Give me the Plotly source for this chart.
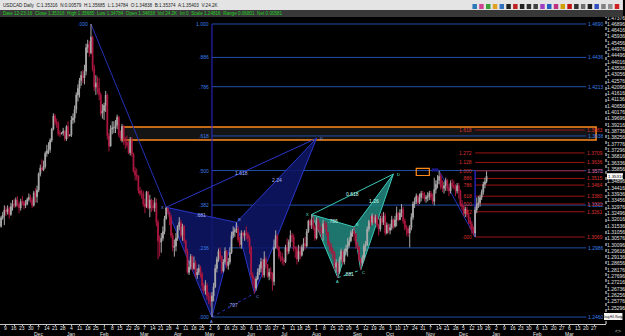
import plotly.graph_objects as go

# ------------------------------------------------------------------ data
# x = trading-day index (weekends removed), 0 = Monday 9 Nov 2015
first_day = -3            # Wed 4 Nov 2015
first_open = 1.3150

# daily closes / highs / lows in 1e-4 price units, one row per week (Mon..Fri)
close_pips = [
    13215, 13235, 13275,
    13260, 13285, 13240, 13300, 13320,
    13310, 13350, 13320, 13290, 13340,
    13335, 13310, 13320, 13355, 13370,
    13350, 13310, 13405, 13375, 13425,
    13550, 13595, 13580, 13605, 13705,
    13725, 13735, 13805, 13890, 13990,
    13945, 13935, 13855, 13855, 13860,
    13875, 13815, 13910, 13840, 13845,
    13960, 13975, 14040, 14150, 14200,
    14260, 14300, 14280, 14330, 14510,
    14535, 14470, 14590, 14350, 14210,
    14240, 14200, 14150, 14010, 14030,
    14070, 14150, 13840, 13760, 13890,
    13900, 13900, 13920, 13980, 13850,
    13820, 13910, 13800, 13790, 13770,
    13710, 13800, 13700, 13570, 13540,
    13530, 13420, 13400, 13400, 13320,
    13300, 13410, 13290, 13350, 13310,
    13290, 13330, 13180, 13040, 13030,
    13060, 13110, 13210, 13290, 13260,
    13220, 13080, 12990, 13000, 13060,
    13150, 13180, 13080, 13150, 13040,
    12960, 12800, 12840, 12920, 12830,
    12870, 12780, 12800, 12830, 12790,
    12700, 12660, 12700, 12620, 12600,
    12580, 12620, 12690, 12830, 12900,
    12960, 12920, 12810, 12880, 12960,
    12850, 12880, 12950, 13080, 13110,
    13120, 13130, 13050, 13010, 13100,
    13080, 13100, 13090, 13060, 12990,
    12780, 12750, 12680, 12750, 12800,
    12830, 12880, 12780, 12900, 12860,
    12770, 12800, 12790, 12730, 12990,
    13080, 12990, 12920, 12920, 12890,
    12880, 12990, 12960, 13030, 13080,
    13070, 12980, 12980, 12900, 12960,
    12930, 12990, 13020, 13000, 13110,
    13190, 13160, 13200, 13140, 13060,
    13200, 13130, 13130, 13100, 13170,
    13160, 13100, 13020, 12990, 12960,
    12950, 12840, 12870, 12800, 12900,
    12960, 12880, 12960, 12980, 13010,
    13040, 13100, 13110, 13090, 13020,
    12990, 12900, 12870, 12910, 13000,
    13010, 13130, 13190, 13180, 13230,
    13180, 13220, 13160, 13130, 13210,
    13180, 13230, 13100, 13160, 13120,
    13140, 13200, 13150, 13200, 13250,
    13200, 13250, 13280, 13190, 13140,
    13130, 13100, 13140, 13220, 13320,
    13340, 13380, 13330, 13370, 13400,
    13390, 13360, 13370, 13380, 13400,
    13370, 13340, 13430, 13470, 13500,
    13530, 13450, 13440, 13460, 13500,
    13440, 13420, 13480, 13460, 13450,
    13420, 13460, 13420, 13320, 13300,
    13250, 13280, 13240, 13200, 13170,
    13120, 13100, 13275, 13320, 13330,
    13370, 13410, 13470, 13490, 13532,
]
high_pips = [
    13230, 13260, 13310,
    13300, 13310, 13300, 13330, 13350,
    13360, 13370, 13380, 13330, 13360,
    13380, 13345, 13350, 13370, 13400,
    13390, 13370, 13420, 13440, 13460,
    13560, 13620, 13660, 13650, 13720,
    13770, 13790, 13820, 13900, 14010,
    14005, 13970, 13950, 13880, 13865,
    13900, 13880, 13920, 13950, 13850,
    13990, 14010, 14070, 14170, 14230,
    14280, 14330, 14340, 14380, 14540,
    14570, 14560, 14690, 14600, 14380,
    14300, 14290, 14280, 14170, 14080,
    14090, 14180, 14160, 13860, 13920,
    13950, 13950, 13960, 14000, 13990,
    13880, 13930, 13920, 13830, 13840,
    13800, 13830, 13830, 13710, 13600,
    13590, 13540, 13450, 13430, 13420,
    13360, 13420, 13420, 13390, 13360,
    13350, 13370, 13360, 13200, 13080,
    13100, 13150, 13230, 13295, 13290,
    13260, 13240, 13100, 13050, 13100,
    13160, 13220, 13200, 13170, 13160,
    13050, 12980, 12890, 12940, 12930,
    12920, 12890, 12830, 12860, 12850,
    12800, 12720, 12740, 12720, 12650,
    12640, 12650, 12720, 12860, 12920,
    12980, 12990, 12930, 12900, 12990,
    12970, 12910, 12990, 13110, 13150,
    13140, 13180, 13150, 13070, 13120,
    13110, 13120, 13150, 13110, 13080,
    13000, 12800, 12760, 12770, 12830,
    12860, 12910, 12900, 12960, 12920,
    12860, 12830, 12840, 12800, 13050,
    13120, 13090, 13000, 12960, 12950,
    12910, 13010, 13060, 13050, 13120,
    13100, 13090, 13000, 13000, 13010,
    13000, 13010, 13060, 13070, 13130,
    13200, 13210, 13240, 13230, 13160,
    13220, 13210, 13180, 13150, 13200,
    13190, 13180, 13110, 13040, 13020,
    12990, 12960, 12900, 12880, 12920,
    12980, 12970, 12980, 13010, 13060,
    13070, 13120, 13130, 13145, 13100,
    13030, 13000, 12910, 12930, 13020,
    13040, 13150, 13200, 13230, 13250,
    13240, 13240, 13240, 13170, 13230,
    13250, 13260, 13250, 13180, 13170,
    13170, 13230, 13210, 13230, 13300,
    13260, 13280, 13320, 13300, 13210,
    13160, 13150, 13160, 13250, 13340,
    13370, 13400, 13390, 13400, 13420,
    13420, 13410, 13390, 13410, 13420,
    13420, 13400, 13520, 13500, 13540,
    13572, 13550, 13500, 13490, 13520,
    13510, 13470, 13500, 13510, 13500,
    13470, 13480, 13480, 13430, 13350,
    13310, 13300, 13300, 13250, 13220,
    13190, 13150, 13300, 13370, 13380,
    13390, 13430, 13490, 13520, 13569,
]
low_pips = [
    13140, 13200, 13160,
    13230, 13240, 13210, 13230, 13270,
    13290, 13295, 13300, 13250, 13270,
    13310, 13280, 13290, 13310, 13340,
    13330, 13290, 13300, 13330, 13330,
    13410, 13530, 13570, 13570, 13590,
    13680, 13700, 13710, 13790, 13880,
    13920, 13900, 13840, 13830, 13850,
    13840, 13800, 13800, 13820, 13835,
    13830, 13930, 13940, 14010, 14100,
    14130, 14220, 14240, 14230, 14300,
    14470, 14440, 14460, 14330, 14180,
    14150, 14160, 14110, 13990, 13970,
    13960, 14020, 13810, 13720, 13760,
    13850, 13860, 13860, 13890, 13830,
    13800, 13790, 13770, 13740, 13750,
    13700, 13690, 13680, 13560, 13500,
    13500, 13400, 13380, 13360, 13300,
    13250, 13290, 13280, 13220, 13260,
    13270, 13260, 13150, 12900, 12920,
    12950, 13040, 13090, 13200, 13240,
    13160, 13060, 12960, 12920, 12960,
    13040, 13120, 13060, 13040, 13020,
    12940, 12790, 12780, 12820, 12810,
    12820, 12760, 12750, 12780, 12760,
    12660, 12640, 12630, 12590, 12560,
    12540, 12460, 12580, 12680, 12800,
    12880, 12890, 12790, 12800, 12860,
    12830, 12820, 12860, 12940, 13060,
    13070, 13100, 13030, 12990, 12980,
    13060, 13040, 13050, 13030, 12940,
    12760, 12700, 12640, 12660, 12740,
    12780, 12800, 12760, 12760, 12830,
    12760, 12740, 12750, 12660, 12700,
    12980, 12970, 12900, 12880, 12860,
    12850, 12870, 12930, 12940, 12990,
    13030, 12960, 12910, 12860, 12880,
    12900, 12920, 12960, 12970, 12990,
    13100, 13140, 13130, 13120, 13040,
    13050, 13110, 13090, 13060, 13040,
    13130, 13080, 13000, 12960, 12940,
    12900, 12820, 12800, 12760, 12790,
    12880, 12860, 12860, 12930, 12920,
    12990, 13030, 13070, 13040, 12980,
    12970, 12880, 12818, 12850, 12890,
    12960, 13000, 13110, 13150, 13160,
    13170, 13170, 13140, 13080, 13110,
    13160, 13160, 13080, 13090, 13100,
    13090, 13120, 13130, 13140, 13150,
    13190, 13200, 13220, 13170, 13120,
    13080, 13070, 12990, 13120, 13200,
    13290, 13320, 13310, 13320, 13340,
    13360, 13340, 13330, 13340, 13350,
    13350, 13320, 13310, 13400, 13440,
    13470, 13430, 13410, 13400, 13420,
    13420, 13380, 13400, 13440, 13430,
    13380, 13400, 13360, 13300, 13270,
    13230, 13220, 13220, 13170, 13130,
    13090, 13080, 13069, 13250, 13290,
    13300, 13350, 13390, 13440, 13478,
]

# x-axis: Mondays 9 Nov 2015 .. 27 Mar 2017 (every 5 trading days)
tick_days = [9, 16, 23, 30, 7, 14, 21, 28,
             4, 11, 18, 25, 1, 8, 15, 22, 29, 7, 14, 21, 28, 4, 11, 18, 25,
             2, 9, 16, 23, 30, 6, 13, 20, 27, 4, 11, 18, 25, 1, 8, 15, 22, 29,
             5, 12, 19, 26, 3, 10, 17, 24, 31, 7, 14, 21, 28, 5, 12, 19, 26,
             2, 9, 16, 23, 30, 6, 13, 20, 27, 6, 13, 20, 27]
month_names = ["Dec", "Jan", "Feb", "Mar", "Apr", "May", "Jun", "Jul", "Aug",
               "Sep", "Oct", "Nov", "Dec", "Jan", "Feb", "Mar"]

# price-axis grid of the terminal
price_tick0, price_step = 1.24816, 0.0048

quote = {"date": "12-23-16", "close": "1.35316", "high": "1.35685", "low": "1.34784",
         "open": "1.34838", "bid": "1.35374", "ask": "1.35403", "chg": "0.00579",
         "vol": "24.2K", "scale": "1.24816", "range": "0.06801", "net": "0.00581"}

# Fibonacci retracement of the Jan high -> May low swing (blue)
blue_fib_low, blue_fib_high = 1.2460, 1.4690
blue_fib_levels = [0.0, 0.236, 0.382, 0.5, 0.618, 0.786, 0.886, 1.0]
blue_fib_names = [".000", ".236", ".382", ".500", ".618", ".786", ".886", "1.000"]
blue_fib_days = (126, 355)

# Fibonacci of the Nov high -> Dec low swing (red)
red_fib_low, red_fib_high = 1.3069, 1.3572
red_fib_levels = [0.0, 0.382, 0.5, 0.618, 0.786, 0.886, 1.0, 1.128, 1.272, 1.618]
red_fib_names = [".000", ".382", ".500", ".618", ".786", ".886", "1.000", "1.128", "1.272", "1.618"]
red_fib_days = (287, 354)

# harmonic patterns: points X, A, B, C, D
bat_days = [98, 126, 141, 152, 190]
bat_prices = [1.3295, 1.2460, 1.3180, 1.2640, 1.3820]
bat_ratios = [".681", ".707", "1.618", "2.24"]          # XB, AC, XD, BD
teal_days = [187, 203, 213, 217, 237]
teal_prices = [1.3240, 1.2760, 1.3145, 1.2818, 1.3548]
teal_ratios = [".786", ".881", "0.618", "1.26"]

peak = (52, 1.4690)
nov_high = (265, 1.3572)
dec_low = (287, 1.3069)

zone_days, zone_prices = (71, 361), (1.3807, 1.3906)
box_days, box_prices = (251, 259), (1.3537, 1.3591)
tag_days, tag_prices = (260.5, 264.5), (1.3567, 1.3591)

icon_colors = ["#2a7ab8", "#d04090", "#3aa03a", "#e0a020", "#3070c0", "#202020",
               "#c02020", "#202020", "#303030", "#404040", "#a040c0", "#2060c0",
               "#c03080", "#d0a000", "#c01010", "#303030", "#707070", "#202020",
               "#3050c0", "#808080", "#909090", "#d02020"]

# ------------------------------------------------------------------ build
close = [v / 1e4 for v in close_pips]
high = [v / 1e4 for v in high_pips]
low = [v / 1e4 for v in low_pips]
assert len(close) == len(high) == len(low)
open_ = [first_open] + close[:-1]
days = list(range(first_day, first_day + len(close)))

W, H = 625, 336
ML, MR, MT, MB = 0, 17, 17, 12
PW, PH = W - ML - MR, H - MT - MB
DAY_PX, PRICE_PX = 1.64, 0.000761
X0 = -3.66
X1 = X0 + PW / DAY_PX
Y1 = blue_fib_high + 7 * PRICE_PX
Y0 = Y1 - PH * PRICE_PX
FONT = "Liberation Sans, Arial, sans-serif"
last = float(quote["close"])

# axis ticks; the ones hidden under the live-price tag and the drag box are left out
y_ticks = []
k = 0
while price_tick0 + k * price_step < Y1:
    v = round(price_tick0 + k * price_step, 5)
    if abs(v - last) > 4 * PRICE_PX and v - Y0 > 12 * PRICE_PX:
        y_ticks.append(v)
    k += 1


def pxp(xp):
    return (xp - ML) / PW


def pyp(yp):
    return (MT + PH - yp) / PH


shapes, anns = [], []


def line(x0, y0, x1, y1, color, width=1, dash="solid", layer="below", xref="x", yref="y"):
    shapes.append(dict(type="line", x0=x0, y0=y0, x1=x1, y1=y1, xref=xref, yref=yref,
                       line=dict(color=color, width=width, dash=dash), layer=layer))


def rect(x0, y0, x1, y1, fill, color=None, width=0, layer="below", xref="x", yref="y"):
    shapes.append(dict(type="rect", x0=x0, y0=y0, x1=x1, y1=y1, xref=xref, yref=yref,
                       fillcolor=fill, line=dict(color=color or fill, width=width), layer=layer))


def poly(pts, fill, color):
    d = "M " + " L ".join(f"{a},{b}" for a, b in pts) + " Z"
    shapes.append(dict(type="path", path=d, xref="x", yref="y", fillcolor=fill,
                       line=dict(color=color, width=1), layer="below"))


def text(x, y, s, color, size=5, xanchor="center", yanchor="middle", xref="x", yref="y",
         xshift=0, yshift=0):
    anns.append(dict(x=x, y=y, text=s, xref=xref, yref=yref, showarrow=False,
                     font=dict(color=color, size=size, family=FONT), xanchor=xanchor,
                     yanchor=yanchor, xshift=xshift, yshift=yshift, borderpad=0))


# orange resistance zone
rect(zone_days[0], zone_prices[0], zone_days[1], zone_prices[1], "#141414", "#ff8a1c", 1.5)

# blue fibonacci
for lev, name in zip(blue_fib_levels, blue_fib_names):
    p = blue_fib_low + lev * (blue_fib_high - blue_fib_low)
    line(blue_fib_days[0], p, blue_fib_days[1], p, "#1f4fa6", 1)
    text(blue_fib_days[0], p, name, "#3b7fe6", xanchor="right", xshift=-2)
    text(blue_fib_days[1], p, f"{p:.4f}", "#3b7fe6", xanchor="left", xshift=1)
line(blue_fib_days[0], blue_fib_low, blue_fib_days[0], blue_fib_high, "#2a2ad8", 1)
text(peak[0], peak[1], ".000", "#3b7fe6", xanchor="right", xshift=-2)

# red fibonacci
for lev, name in zip(red_fib_levels, red_fib_names):
    p = red_fib_low + lev * (red_fib_high - red_fib_low)
    line(red_fib_days[0], p, red_fib_days[1], p, "#9c1414", 1)
    text(red_fib_days[0], p, name, "#dc3030", xanchor="right", xshift=-2)
    text(red_fib_days[1], p, f"{p:.4f}", "#dc3030", xanchor="left", xshift=1)
line(dec_low[0], dec_low[1], dec_low[0], nov_high[1], "#2a2ae0", 1.2)
line(nov_high[0], nov_high[1], dec_low[0], dec_low[1], "#2430b8", 1)

rect(box_days[0], box_prices[0], box_days[1], box_prices[1], "rgba(0,0,0,0)", "#ff8a1c", 1.2)
rect(tag_days[0], tag_prices[0], tag_days[1], tag_prices[1], "#1c1c90")

# peak -> X leg
line(peak[0], peak[1], bat_days[0], bat_prices[0], "#2430b8", 1)


def pattern(dd, pp, ratios, fill, edge, lab, letter_col):
    P = list(zip(dd, pp))
    poly([P[0], P[1], P[2]], fill, edge)
    poly([P[2], P[3], P[4]], fill, edge)
    line(P[0][0], P[0][1], P[4][0], P[4][1], edge, 1)
    line(P[1][0], P[1][1], P[3][0], P[3][1], edge, 1, dash="dot")
    for (i, j), r in zip([(0, 2), (1, 3), (0, 4), (2, 4)], ratios):
        text((P[i][0] + P[j][0]) / 2, (P[i][1] + P[j][1]) / 2, r, lab, size=5)
    offs = [(-4, 0), (0, -4), (3, 3), (3, -3), (5, 0)]
    for (x, y), n, (dx, dy) in zip(P, "XABCD", offs):
        text(x, y, n, letter_col, size=4, xshift=dx, yshift=dy)


pattern(bat_days, bat_prices, bat_ratios, "rgba(14,22,104,0.85)", "#2a36c8", "#a8b8ff", "#7f9cff")
pattern(teal_days, teal_prices, teal_ratios, "rgba(34,138,128,0.85)", "#3ccab8", "#c8fff4", "#5ee8d4")

# header bars
rect(0, pyp(10), W / PW, pyp(0), "#e4e4e4", xref="paper", yref="paper", layer="above")
rect(0, pyp(17), W / PW, pyp(10), "#383838", xref="paper", yref="paper", layer="above")
hdr = (f"USDCAD Daily  C:{quote['close']}  N:{quote['chg']}  H:{quote['high']}  L:{quote['low']}"
       f"  O:{quote['open']}  B:{quote['bid']}  A:{quote['ask']}  V:{quote['vol']}")
info = (f"Date {quote['date']}  Close {quote['close']}  High {quote['high']}  Low {quote['low']}"
        f"  Open {quote['open']}  Vol {quote['vol']}  Int 0  Scale {quote['scale']}"
        f"  Range {quote['range']}  Net {quote['net']}")
text(pxp(2), pyp(6), hdr, "#1a1a1a", size=4.6, xanchor="left", xref="paper", yref="paper")
text(pxp(2), pyp(13.5), info, "#1ed01e", size=4.6, xanchor="left", xref="paper", yref="paper")
for i, c in enumerate(icon_colors):
    x0 = 474 + i * 6.8
    rect(pxp(x0), pyp(9), pxp(x0 + 4.5), pyp(4), c, xref="paper", yref="paper", layer="above")

# right axis dotted line, current price tag, drag box
line(1.0, 0, 1.0, 1, "#e8e8e8", 1, dash="dot", layer="above", xref="paper", yref="paper")
rect(1.0 + 1 / PW, last - 3 * PRICE_PX, W / PW, last + 3 * PRICE_PX, "#ffffff",
     xref="paper", layer="above")
text(1.0 + 1.5 / PW, last, quote["close"], "#000000", size=4.4, xanchor="left", xref="paper")
rect(pxp(606), pyp(320), pxp(624.5), pyp(313), "#f4f4f4", xref="paper", yref="paper", layer="above")
text(pxp(615.3), pyp(316.5), "Drag H/L Range", "#000000", size=2.9, xref="paper", yref="paper")
text(pxp(620), pyp(331), "<>", "#c8c8c8", size=5, xref="paper", yref="paper")

# day labels on Mondays, month labels under the first Monday of each month
mi = 0
for i, dday in enumerate(tick_days):
    text(5 * i, pyp(328), str(dday), "#e8e8e8", size=5, yref="paper")
    if i > 0 and dday <= 7:
        text(5 * i, pyp(333.5), month_names[mi], "#e8e8e8", size=5, yref="paper")
        mi += 1

fig = go.Figure(go.Candlestick(
    x=days, open=open_, high=high, low=low, close=close,
    increasing=dict(line=dict(color="#a8a8a8", width=1), fillcolor="#f4f4f4"),
    decreasing=dict(line=dict(color="#a8163e", width=1), fillcolor="#f0245a"),
    whiskerwidth=0, hoverinfo="skip", showlegend=False))

fig.update_layout(
    width=W, height=H, autosize=False,
    margin=dict(l=ML, r=MR, t=MT, b=MB, pad=0),
    paper_bgcolor="#000000", plot_bgcolor="#000000",
    font=dict(family=FONT, color="#e8e8e8", size=5),
    shapes=shapes, annotations=anns, showlegend=False,
    xaxis=dict(range=[X0, X1], rangeslider=dict(visible=False), showgrid=False,
               zeroline=False, tickmode="array",
               tickvals=[5 * i for i in range(len(tick_days))],
               showticklabels=False, ticks="outside", ticklen=1,
               tickcolor="#c8c8c8", showline=True, linecolor="#c8c8c8", linewidth=1),
    yaxis=dict(range=[Y0, Y1], side="right", showgrid=False, zeroline=False,
               tickmode="array", tickvals=y_ticks, ticktext=[f"{v:.5f}" for v in y_ticks],
               tickfont=dict(size=5, color="#e0e0e0"), ticks="", showline=False),
)

fig.write_html("out.html")
